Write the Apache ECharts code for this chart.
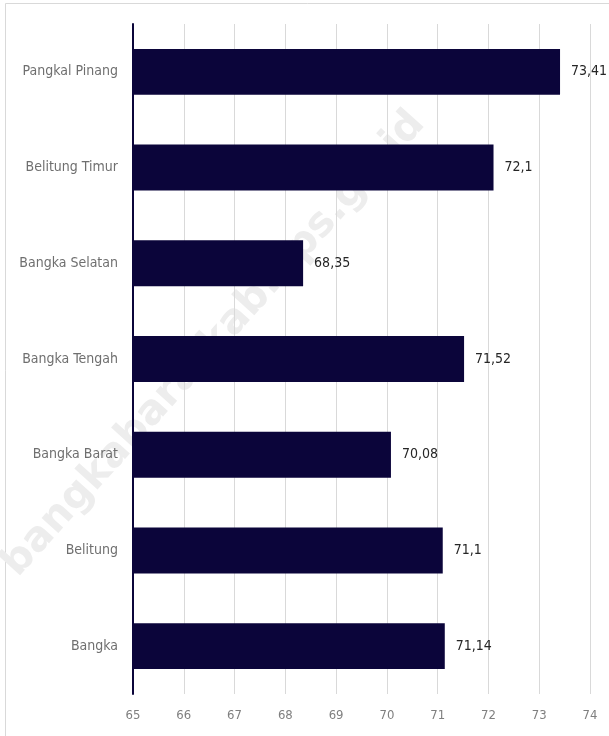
<!DOCTYPE html>
<html>
<head>
<meta charset="utf-8">
<script src="https://cdn.jsdelivr.net/npm/echarts@6/dist/echarts.min.js"></script>
<style>
  html, body { margin: 0; padding: 0; background: #fff; }
  #chart { width: 609px; height: 736px; }
</style>
</head>
<body>
<div id="chart"></div>
<script>
// Regions, listed top to bottom
const regions = ['Pangkal Pinang', 'Belitung Timur', 'Bangka Selatan', 'Bangka Tengah', 'Bangka Barat', 'Belitung', 'Bangka'];
const values = [73.41, 72.1, 68.35, 71.52, 70.08, 71.1, 71.14];
const axisMin = 65;
const axisMax = 74;
const watermark = 'bangkabaratkab.bps.go.id';

const FONT = "'Liberation Sans Narrow', 'DejaVu Sans Condensed', 'Roboto Condensed', sans-serif";
const NAVY = '#0b053a';

const chart = echarts.init(document.getElementById('chart'), null, { renderer: 'canvas' });
chart.setOption({
  backgroundColor: '#ffffff',
  animation: false,
  grid: { left: 133, right: 19, top: 24, bottom: 42, containLabel: false },
  graphic: [
    {
      type: 'rect', z: -10, silent: true,
      shape: { x: 5.5, y: 3.5, width: 640, height: 760 },
      style: { fill: 'none', stroke: '#d9d9d9', lineWidth: 1 }
    },
    {
      type: 'text', z: -5, silent: true,
      x: 214, y: 344, rotation: 48 * Math.PI / 180,
      style: {
        text: watermark, fill: '#ededed',
        font: "bold 41px 'DejaVu Sans', 'Liberation Sans', sans-serif",
        textAlign: 'center', textVerticalAlign: 'middle'
      }
    }
  ],
  xAxis: {
    type: 'value', min: axisMin, max: axisMax, interval: 1,
    axisLine: { show: false },
    axisTick: { show: false },
    splitLine: { show: true, lineStyle: { color: '#d9d9d9', width: 1 } },
    axisLabel: { color: '#7f7f7f', fontFamily: FONT, fontSize: 13, margin: 15 }
  },
  yAxis: {
    type: 'category', data: regions, inverse: true,
    axisLine: { show: true, lineStyle: { color: NAVY, width: 2 } },
    axisTick: { show: false },
    axisLabel: { color: '#6f6f6f', fontFamily: FONT, fontSize: 14, margin: 15 }
  },
  series: [{
    type: 'bar',
    data: values,
    barWidth: '48%',
    itemStyle: { color: NAVY },
    label: {
      show: true, position: 'right', distance: 11,
      color: '#262626', fontFamily: FONT, fontSize: 14,
      formatter: p => String(p.value).replace('.', ',')
    }
  }]
});
</script>
</body>
</html>
